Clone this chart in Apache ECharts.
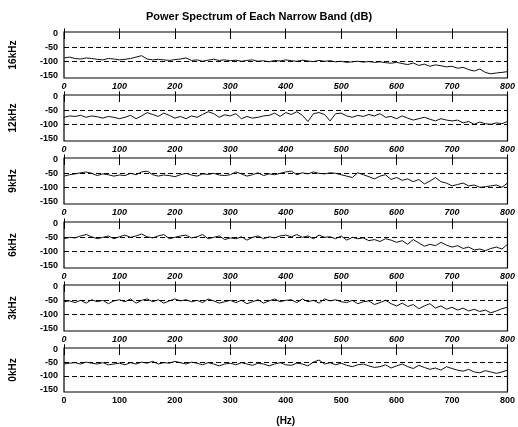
<!DOCTYPE html>
<html lang="en">
<head>
  <meta charset="UTF-8">
  <title>Power Spectrum of Each Narrow Band</title>
  <script src="https://cdn.jsdelivr.net/npm/echarts@6/dist/echarts.min.js"></script>
  <style>
    html, body { margin: 0; padding: 0; background: #fff; }
    #main { width: 518px; height: 427px; }
  </style>
</head>
<body>
<div id="main"></div>
<script>
  // data
  var bandNames = ['16kHz', '12kHz', '9kHz', '6kHz', '3kHz', '0kHz'];
  var freqs = [0, 10, 20, 30, 40, 50, 60, 70, 80, 90, 100, 110, 120, 130, 140, 150, 160, 170, 180, 190,
    200, 210, 220, 230, 240, 250, 260, 270, 280, 290, 300, 310, 320, 330, 340, 350, 360, 370, 380, 390,
    400, 410, 420, 430, 440, 450, 460, 470, 480, 490, 500, 510, 520, 530, 540, 550, 560, 570, 580, 590,
    600, 610, 620, 630, 640, 650, 660, 670, 680, 690, 700, 710, 720, 730, 740, 750, 760, 770, 780, 790, 800];
  var band16k = [-88, -85, -90, -92, -88, -90, -93, -95, -90, -92, -95,
    -93, -90, -85, -80, -92, -95, -93, -95, -97, -94,
    -92, -88, -97, -95, -100, -96, -93, -97, -95, -98,
    -96, -100, -97, -95, -100, -98, -102, -97, -99, -95,
    -98, -100, -96, -99, -101, -97, -100, -98, -102, -100,
    -104, -102, -100, -103, -101, -104, -102, -105, -107, -104,
    -108, -112, -106, -115, -110, -118, -113, -116, -120, -118,
    -125, -122, -130, -135, -128, -140, -145, -142, -140, -137];
  var band12k = [-75, -70, -72, -68, -75, -70, -73, -78, -72, -75, -80,
    -75, -68, -80, -70, -58, -65, -72, -60, -68, -78,
    -72, -80, -70, -75, -65, -55, -62, -75, -66, -70,
    -62, -80, -72, -78, -75, -70, -68, -60, -72, -58,
    -65, -55, -68, -90, -62, -58, -65, -88, -62, -60,
    -70, -75, -68, -72, -65, -70, -62, -75, -72, -80,
    -70, -78, -85, -80, -75, -82, -88, -80, -85, -88,
    -85, -95, -90, -100, -92, -98, -100, -95, -98, -90];
  var band9k = [-60, -55, -52, -48, -45, -50, -58, -52, -55, -60, -56,
    -58, -50, -55, -45, -42, -55, -60, -56, -58, -62,
    -55, -50, -56, -60, -52, -54, -50, -56, -58, -55,
    -45, -52, -60, -55, -48, -58, -52, -55, -50, -45,
    -42, -55, -48, -52, -45, -50, -52, -48, -50, -55,
    -60, -65, -48, -55, -62, -70, -60, -55, -72, -65,
    -75, -70, -80, -72, -88, -78, -65, -80, -85, -95,
    -90, -85, -95, -92, -100, -98, -95, -92, -100, -85];
  var band6k = [-55, -50, -52, -45, -40, -48, -55, -50, -45, -55, -48,
    -42, -50, -45, -38, -48, -52, -45, -40, -55, -50,
    -45, -42, -52, -48, -40, -55, -50, -45, -58, -52,
    -55, -48, -60, -50, -45, -55, -48, -52, -45, -42,
    -48, -40, -50, -45, -55, -42, -50, -48, -55, -45,
    -60, -50, -55, -52, -62, -58, -65, -55, -60, -68,
    -62, -75, -58, -70, -82, -75, -80, -68, -78, -85,
    -80, -90, -85, -95, -92, -98, -90, -85, -92, -75];
  var band3k = [-55, -52, -58, -50, -60, -48, -55, -50, -62, -52, -48,
    -55, -45, -60, -50, -45, -55, -48, -60, -52, -45,
    -52, -48, -55, -50, -58, -45, -52, -60, -55, -50,
    -58, -50, -62, -55, -48, -60, -52, -45, -55, -50,
    -48, -58, -45, -55, -50, -60, -45, -52, -48, -55,
    -58, -50, -62, -55, -52, -65, -58, -50, -62, -70,
    -60, -72, -65, -80, -70, -62, -78, -70, -82, -75,
    -85, -78, -88, -82, -90, -85, -95, -88, -80, -75];
  var band0k = [-55, -52, -50, -55, -48, -52, -55, -50, -58, -55, -52,
    -58, -50, -55, -48, -52, -45, -55, -50, -52, -45,
    -50, -55, -48, -52, -58, -50, -55, -62, -55, -52,
    -58, -50, -55, -60, -52, -55, -62, -55, -50, -58,
    -60, -52, -55, -62, -48, -40, -55, -50, -58, -52,
    -60, -65, -58, -55, -62, -68, -65, -58, -70, -62,
    -55, -65, -72, -60, -68, -75, -70, -78, -65, -72,
    -78, -82, -75, -85, -88, -80, -85, -90, -85, -78];
  var bands = [band16k, band12k, band9k, band6k, band3k, band0k];
  var yTicks = [0, -50, -100, -150];
  var refLevels = [-50, -100];

  var panelTops = [32, 95, 158, 222, 285, 348];
  var panelH = 46;

  var grid = [], xAxis = [], yAxis = [], series = [];
  bands.forEach(function (vals, i) {
    var last = i === bands.length - 1;
    grid.push({ left: 62, right: 8, top: panelTops[i], height: panelH,
      show: true, borderColor: '#000', borderWidth: 1.2, backgroundColor: 'transparent' });
    // bottom axis with labels
    xAxis.push({ gridIndex: i, type: 'value', min: 0, max: 800, interval: 100,
      name: last ? '(Hz)' : '', nameLocation: 'middle', nameGap: 24,
      nameTextStyle: { color: '#000', fontSize: 10, fontWeight: 'bold' },
      axisLine: { show: false }, splitLine: { show: false },
      axisTick: { inside: true, length: 5, lineStyle: { color: '#000' } },
      axisLabel: { color: '#000', fontSize: 9, fontWeight: 'bold',
        fontStyle: last ? 'normal' : 'italic', margin: 4 } });
    // top edge ticks
    xAxis.push({ gridIndex: i, type: 'value', position: 'top', min: 0, max: 800, interval: 100,
      axisLine: { show: false }, splitLine: { show: false }, axisLabel: { show: false },
      axisTick: { inside: true, length: 7, lineStyle: { color: '#000' } } });
    yAxis.push({ gridIndex: i, type: 'value', min: -160, max: 5, interval: 5,
      name: bandNames[i], nameLocation: 'middle', nameRotate: 90, nameGap: 46,
      nameTextStyle: { color: '#000', fontSize: 10, fontWeight: 'bold' },
      axisLine: { show: false }, axisTick: { show: false }, splitLine: { show: false },
      axisLabel: { color: '#000', fontSize: 9, fontWeight: 'bold', margin: 6,
        formatter: function (v) { return yTicks.indexOf(v) >= 0 ? String(v) : ''; } } });
    series.push({
      type: 'line', xAxisIndex: i * 2, yAxisIndex: i, showSymbol: false, silent: true,
      data: freqs.map(function (f, k) { return [f, vals[k]]; }),
      lineStyle: { color: '#111', width: 1 },
      markLine: { silent: true, symbol: 'none', label: { show: false },
        lineStyle: { color: '#000', type: [5, 3], width: 1 },
        data: refLevels.map(function (v) { return { yAxis: v }; }) }
    });
  });

  var chart = echarts.init(document.getElementById('main'));
  chart.setOption({
    animation: false,
    backgroundColor: '#fff',
    title: { text: 'Power Spectrum of Each Narrow Band (dB)', left: 'center', top: 6,
      textStyle: { color: '#000', fontSize: 11, fontWeight: 'bold' } },
    grid: grid,
    xAxis: xAxis,
    yAxis: yAxis,
    series: series
  });
</script>
</body>
</html>
